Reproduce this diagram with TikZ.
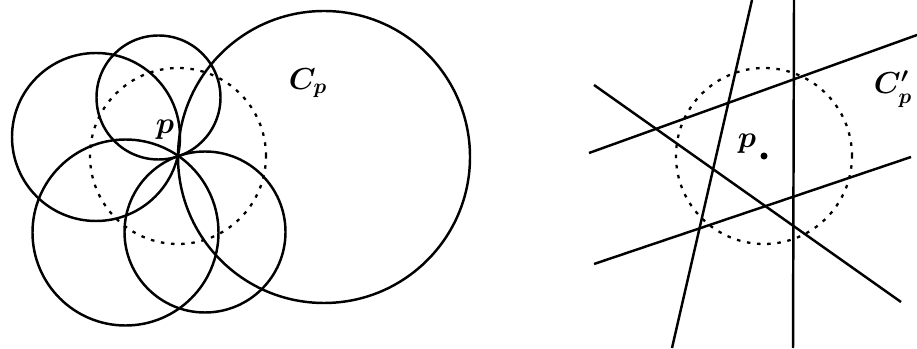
\documentclass[tikz,border=0pt]{standalone}
\usepackage{amsmath,amssymb}
\usetikzlibrary{positioning,calc}
\tikzset{
	curve/.style={draw=black,line width=1.4pt},
	dotted circ/.style={draw=black,line width=1.3pt,dash pattern=on 2pt off 3.8pt},
	lbl/.style={inner sep=1pt,font=\LARGE\boldmath},
	pt/.style={circle,fill=black,inner sep=0pt,minimum size=4pt},
}
\begin{document}
\begin{tikzpicture}
	\useasboundingbox (0,0) rectangle (18.34,6.96);
	% left: circles through p
	\coordinate (p) at (3.56,3.84);
	\draw[dotted circ] (p) circle[radius=1.76];
	\coordinate (cp) at (6.48,3.82);
	\coordinate (ct) at (3.17,5.01);
	\coordinate (cl) at (1.92,4.22);
	\coordinate (cbl) at (2.51,2.31);
	\coordinate (cbr) at (4.10,2.32);
	\foreach \c/\r in {cp/2.92,ct/1.24,cl/1.68,cbl/1.86,cbr/1.61}
	\draw[curve] (\c) circle[radius=\r];
	\node[lbl] (plabel) at (3.30,4.36) {$p$};
	\node[lbl] (cplabel) at (6.16,5.30) {$C_p$};
	% right: lines near p
	\node[pt] (q) at (15.28,3.84) {};
	\draw[dotted circ] (q) circle[radius=1.76];
	\coordinate (s1) at (15.04,6.96);
	\coordinate (e1) at (13.44,0);
	\coordinate (s2) at (15.88,6.96);
	\coordinate (e2) at (15.86,0);
	\coordinate (s3) at (11.78,3.90);
	\coordinate (e3) at (18.34,6.26);
	\coordinate (s4) at (11.88,1.68);
	\coordinate (e4) at (18.22,3.82);
	\coordinate (s5) at (11.88,5.26);
	\coordinate (e5) at (18.02,0.92);
	\foreach \x/\y in {s1/e1,s2/e2,s3/e3,s4/e4,s5/e5}
	\draw[curve] (\x)--(\y);
	\node[lbl] (qlabel) at (14.94,4.08) {$p$};
	\node[lbl] (cqlabel) at (17.86,5.18) {$C'_p$};
\end{tikzpicture}
\end{document}
